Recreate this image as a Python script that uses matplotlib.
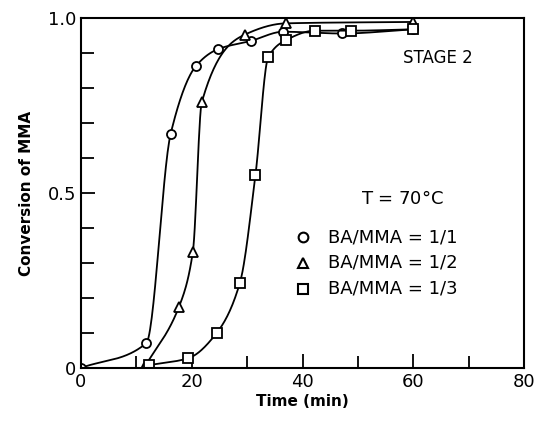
import numpy as np
import matplotlib
matplotlib.use('Agg')
import matplotlib.pyplot as plt
from matplotlib.ticker import MultipleLocator

# data (time in min, conversion of MMA)
t_11 = [0, 11.8, 16.2, 20.8, 24.7, 30.7, 36.5, 47.1, 60]
x_11 = [0, 0.071, 0.67, 0.864, 0.911, 0.935, 0.961, 0.956, 0.968]

t_12 = [11.4, 17.7, 20.2, 21.8, 29.6, 37.0, 60]
x_12 = [0, 0.175, 0.332, 0.759, 0.953, 0.985, 0.989]

t_13 = [12.3, 19.4, 24.5, 28.7, 31.5, 33.8, 37.0, 42.2, 48.7, 60]
x_13 = [0.008, 0.028, 0.10, 0.244, 0.552, 0.888, 0.937, 0.964, 0.964, 0.968]

labels = ['BA/MMA = 1/1', 'BA/MMA = 1/2', 'BA/MMA = 1/3']
markers = ['o', '^', 's']
yticks = [0, 0.5, 1.0]
yticklabels = ['0', '0.5', '1.0']


def pchip(x, y, xn):
    # monotone cubic curve through the points, just to draw the line
    x = np.asarray(x, float)
    y = np.asarray(y, float)
    h = np.diff(x)
    d = np.diff(y) / h
    n = len(x)
    m = np.zeros(n)
    for k in range(1, n - 1):
        if d[k - 1] * d[k] > 0:
            w1 = 2 * h[k] + h[k - 1]
            w2 = h[k] + 2 * h[k - 1]
            m[k] = (w1 + w2) / (w1 / d[k - 1] + w2 / d[k])
    m[0] = d[0]
    m[-1] = d[-1]
    out = np.empty_like(xn)
    for i, xv in enumerate(xn):
        k = min(np.searchsorted(x, xv, side='right') - 1, n - 2)
        k = max(k, 0)
        s = (xv - x[k]) / h[k]
        h00 = 2 * s**3 - 3 * s**2 + 1
        h10 = s**3 - 2 * s**2 + s
        h01 = -2 * s**3 + 3 * s**2
        h11 = s**3 - s**2
        out[i] = h00 * y[k] + h10 * h[k] * m[k] + h01 * y[k + 1] + h11 * h[k] * m[k + 1]
    return out


plt.rcParams['font.family'] = ['DejaVu Sans']

fig = plt.figure(figsize=(5.36, 4.21), dpi=100)
ax = fig.add_axes([0.151, 0.126, 0.827, 0.831])

for t, x, mk in zip([t_11, t_12, t_13], [x_11, x_12, x_13], markers):
    tt = np.linspace(t[0], t[-1], 400)
    ax.plot(tt, pchip(t, x, tt), color='black', lw=1.3)
    ax.plot(t, x, ls='none', marker=mk, ms=6.5, mfc='white', mec='black', mew=1.3)

ax.set_xlim(0, 80)
ax.set_ylim(0, 1.0)
ax.xaxis.set_major_locator(MultipleLocator(20))
ax.xaxis.set_minor_locator(MultipleLocator(10))
ax.set_yticks(yticks)
ax.set_yticklabels(yticklabels)
ax.yaxis.set_minor_locator(MultipleLocator(0.1))
ax.tick_params(which='both', direction='in', top=False, right=False,
               width=1.3, labelsize=13)
ax.tick_params(which='major', length=10)
ax.tick_params(which='minor', length=9)
for s in ax.spines.values():
    s.set_linewidth(1.5)

ax.set_xlabel('Time (min)', fontsize=11, fontweight='bold', labelpad=2)
ax.set_ylabel('Conversion of MMA', fontsize=11, fontweight='bold', labelpad=10)

ax.text(0.885, 0.886, 'STAGE 2', transform=ax.transAxes, fontsize=12,
        ha='right', va='center')
ax.text(0.725, 0.483, 'T = 70$\\degree$C', transform=ax.transAxes, fontsize=13,
        ha='center', va='center')
for i, (lab, mk) in enumerate(zip(labels, markers)):
    yy = 0.374 - i * 0.074
    ax.plot([0.50], [yy], transform=ax.transAxes, ls='none', marker=mk,
            ms=7, mfc='white', mec='black', mew=1.5)
    ax.text(0.557, yy, lab, transform=ax.transAxes, fontsize=13,
            ha='left', va='center')

fig.savefig('out.png', dpi=100)
